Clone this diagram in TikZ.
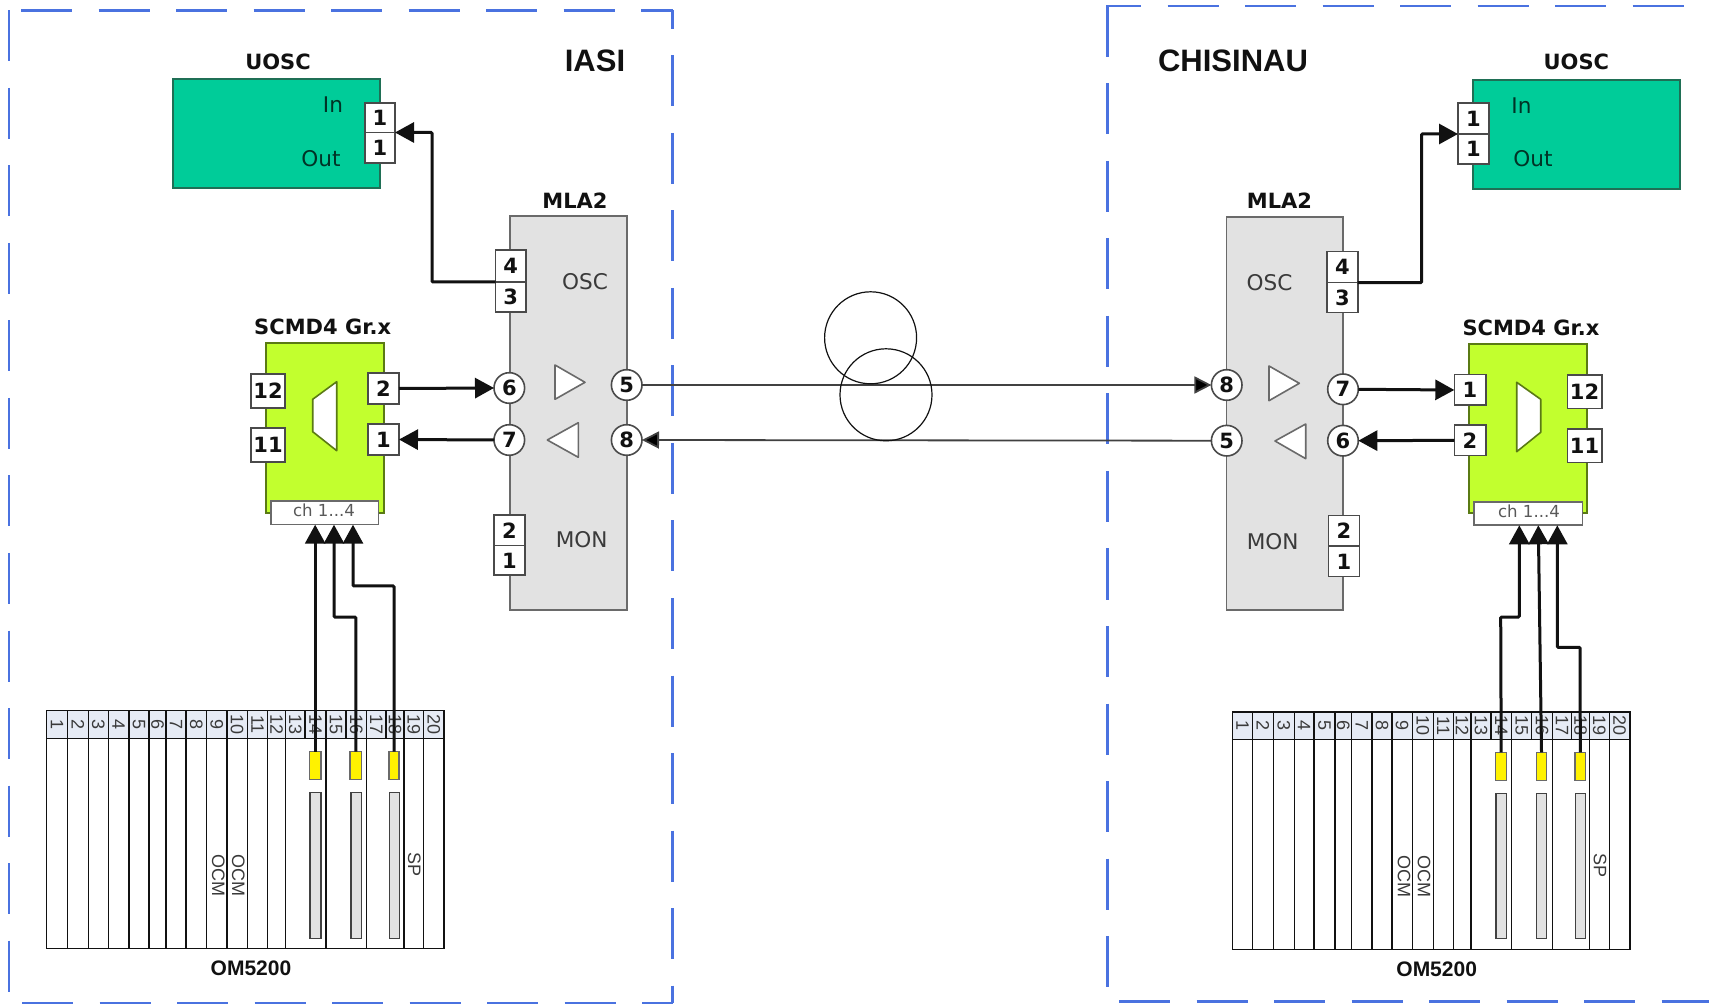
\documentclass[tikz,border=0pt]{standalone}
\usepackage{fontspec}
\usetikzlibrary{arrows.meta}
\newfontfamily\vfont{DejaVu Sans}
\newfontfamily\afont{Liberation Sans}
\definecolor{dashblue}{HTML}{4A72E0}
\definecolor{uoscfill}{HTML}{00CC99}
\definecolor{uoscline}{HTML}{1F6F55}
\definecolor{scmdfill}{HTML}{C2FF2E}
\definecolor{scmdline}{HTML}{5A7A14}
\definecolor{mlafill}{HTML}{E2E2E2}
\definecolor{hdrfill}{HTML}{E6EBF5}
\definecolor{softblack}{HTML}{111111}
\definecolor{midgray}{HTML}{6A6A6A}
\definecolor{txtgray}{HTML}{3A3A3A}
\def\fac{0.5}
\newcommand{\bx}[7]{%
  \pgfmathsetmacro\bcx{(#2+#4)/2}\pgfmathsetmacro\bcy{(#3+#5)/2}%
  \pgfmathsetmacro\bbw{abs(#4-#2)*\fac}\pgfmathsetmacro\bbh{abs(#5-#3)*\fac}%
  \node[#6,minimum width=\bbw pt,minimum height=\bbh pt] (#1) at (\bcx,\bcy) {#7};}
% rack: prefix, slot list, top, header bottom, bottom
\newcommand{\rackslots}[5]{%
  \foreach \a/\b [count=\n] in {#2}{%
    \pgfmathsetmacro\yend{(\n==14||\n==16||\n==18)?#4:#5}%
    \pgfmathsetmacro\mx{(\a+\b)/2}%
    \draw[rackline] (\a,#3) -- (\a,\yend);
    \node[rotate=-90,rtext,text=txtgray] (#1num\n) at (\mx,{(#3+#4)/2}) {\n};
  }}
\tikzset{
  frame/.style={draw=dashblue,line width=1.4pt,dash pattern=on 25.5pt off 13.25pt},
  plainbox/.style={inner sep=0pt,outer sep=0pt,rectangle},
  uosc/.style={plainbox,draw=uoscline,fill=uoscfill,line width=0.9pt},
  scmd/.style={plainbox,draw=scmdline,fill=scmdfill,line width=0.9pt},
  mla/.style={plainbox,draw=midgray,fill=mlafill,line width=0.9pt},
  port/.style={plainbox,draw=midgray!70!black,fill=white,line width=0.8pt,font=\vfont\bfseries\fontsize{10.5}{12}\selectfont,text=softblack},
  cport/.style={circle,inner sep=0pt,outer sep=0pt,minimum size=15.3pt,draw=midgray!70!black,fill=white,line width=0.8pt,font=\vfont\bfseries\fontsize{10.5}{12}\selectfont,text=softblack},
  chbox/.style={plainbox,draw=midgray,fill=white,line width=0.8pt},
  chtext/.style={font=\vfont\fontsize{8.3}{10}\selectfont,text=black!65,inner sep=0pt},
  title/.style={font=\vfont\bfseries\fontsize{10.5}{12}\selectfont,text=softblack,inner sep=0pt},
  site/.style={font=\afont\bfseries\fontsize{15.5}{18}\selectfont,text=softblack,inner sep=0pt},
  lbl/.style={font=\vfont\fontsize{10.8}{12}\selectfont,text=txtgray,inner sep=0pt},
  glbl/.style={font=\vfont\fontsize{10.8}{12}\selectfont,text=black!75!uoscfill,inner sep=0pt},
  rtext/.style={font=\afont\fontsize{9}{10}\selectfont,inner sep=0pt},
  rtitle/.style={font=\afont\bfseries\fontsize{10.5}{12}\selectfont,text=softblack,inner sep=0pt},
  rackbox/.style={plainbox,draw=softblack,fill=white,line width=0.75pt},
  hdrbox/.style={plainbox,draw=softblack,fill=hdrfill,line width=0.75pt},
  rackline/.style={draw=softblack,line width=0.75pt},
  ybar/.style={plainbox,draw=midgray,fill=yellow,line width=0.7pt},
  gbar/.style={plainbox,draw=softblack!80,fill=mlafill,line width=0.7pt},
  wire/.style={draw=softblack,line width=1.5pt,-{Triangle[length=9.5pt,width=10pt]},rounded corners=0.5pt},
  fibre/.style={draw=softblack!80,line width=0.9pt,-{Triangle[length=8.5pt,width=8.5pt,fill=black]}},
  loop/.style={draw=softblack,line width=0.6pt},
  tri/.style={draw=midgray,fill=white,line width=0.8pt,line join=round},
  trap/.style={draw=scmdline,fill=white,line width=0.8pt,line join=round}
}
\begin{document}
\begin{tikzpicture}[x=0.5pt,y=-0.5pt]
\useasboundingbox (0,0) rectangle (1709,1005);
\fill[white] (0,0) rectangle (1709,1005);
% ---------- dashed site frames
\draw[frame] (9,10.5) -- (9,1003);
\draw[frame] (21,10.5) -- (672.7,10.5);
\draw[frame,dash phase=16.25pt] (672.7,10.5) -- (672.7,1003);
\draw[frame] (22,1003) -- (672.7,1003);
\draw[frame] (1107.4,6) -- (1107.4,987);
\draw[frame,dash phase=8pt] (1106,6) -- (1709,6);
\draw[frame] (1119,1001.7) -- (1709,1001.7);
\node[site] (Lsite) at (595,61) {IASI};
\node[site] (Rsite) at (1233,61) {CHISINAU};
% ---------- left UOSC
\node[title] (Lutitle) at (278,62) {UOSC};
\bx{Lu}{173}{79}{380}{188}{uosc}{}
\node[glbl] (Lin) at (333,105) {In};
\node[glbl] (Lout) at (321,159) {Out};
\bx{Lua}{365}{103}{395}{132.5}{port}{1}
\bx{Lub}{365}{132.5}{395}{163}{port}{1}
% ---------- right UOSC
\node[title] (Rutitle) at (1576.4,62) {UOSC};
\bx{Ru}{1473}{80}{1680}{189}{uosc}{}
\node[glbl] (Rin) at (1521.5,106) {In};
\node[glbl] (Rout) at (1533,159) {Out};
\bx{Rua}{1458}{103.3}{1488.7}{134}{port}{1}
\bx{Rub}{1458}{134}{1488.7}{164.3}{port}{1}
% ---------- left MLA2
\node[title] (Lmtitle) at (575,201) {MLA2};
\bx{Lm}{510}{216}{626.7}{610}{mla}{}
\node[lbl] (Losc) at (585,282) {OSC};
\node[lbl] (Lmon) at (581.7,540) {MON};
\bx{Lp4}{495.5}{250}{526}{282}{port}{4}
\bx{Lp3}{495.5}{282}{526}{312}{port}{3}
\bx{Lp2}{494}{515}{524.7}{545.7}{port}{2}
\bx{Lp1}{494}{545.7}{524.7}{575.3}{port}{1}
\node[cport] (Lc6) at (509.3,388) {6};
\node[cport] (Lc7) at (509.3,440) {7};
\node[cport] (Lc5) at (626.7,385) {5};
\node[cport] (Lc8) at (626.7,440) {8};
\draw[tri] (555,365) -- (585,382.3) -- (555,399.3) -- cycle;
\draw[tri] (578.3,422.7) -- (547.3,440) -- (578.3,457.3) -- cycle;
% ---------- right MLA2
\node[title] (Rmtitle) at (1279.5,201) {MLA2};
\bx{Rm}{1226.5}{216.7}{1343}{610}{mla}{}
\node[lbl] (Rosc) at (1269.6,282.7) {OSC};
\node[lbl] (Rmon) at (1272.7,541.7) {MON};
\bx{Rp4}{1327}{251.7}{1357.7}{282.7}{port}{4}
\bx{Rp3}{1327}{282.7}{1357.7}{312.7}{port}{3}
\bx{Rp2}{1328.3}{515.7}{1359.3}{546}{port}{2}
\bx{Rp1}{1328.3}{546}{1359.3}{576.7}{port}{1}
\node[cport] (Rc8) at (1226.7,385) {8};
\node[cport] (Rc5) at (1226.7,440.7) {5};
\node[cport] (Rc7) at (1343,389.3) {7};
\node[cport] (Rc6) at (1343,440.7) {6};
\draw[tri] (1269,366) -- (1299.3,383.3) -- (1269,400.7) -- cycle;
\draw[tri] (1305.7,424) -- (1275,441) -- (1305.7,458.7) -- cycle;
% ---------- left SCMD
\node[title] (Lstitle) at (322.7,327) {SCMD4 Gr.x};
\bx{Ls}{266}{342.7}{383.7}{513}{scmd}{}
\bx{Ls12}{251}{374}{285}{408}{port}{12}
\bx{Ls11}{251}{428}{285}{462}{port}{11}
\bx{Ls2}{367.7}{373}{399}{404}{port}{2}
\bx{Ls1}{367.7}{424}{399}{455}{port}{1}
\draw[trap] (336.7,381.7) -- (336.7,450.7) -- (312.7,431.7) -- (312.7,399.3) -- cycle;
\bx{Lch}{270.7}{501}{378.3}{524.7}{chbox}{}
\node[chtext] (Lchl) at (324,510.5) {ch 1...4};
% ---------- right SCMD
\node[title] (Rstitle) at (1531,328) {SCMD4 Gr.x};
\bx{Rs}{1469.3}{343.7}{1586.7}{513.3}{scmd}{}
\bx{Rs12}{1567.3}{375.3}{1601.7}{408.7}{port}{12}
\bx{Rs11}{1567.3}{429.3}{1601.7}{462.7}{port}{11}
\bx{Rs1}{1454.3}{374.7}{1485.7}{405.3}{port}{1}
\bx{Rs2}{1454.3}{425}{1485.7}{455.7}{port}{2}
\draw[trap] (1516.7,382.3) -- (1540.7,399.3) -- (1540.7,432.3) -- (1516.7,451.7) -- cycle;
\bx{Rch}{1474}{502}{1582.3}{525.3}{chbox}{}
\node[chtext] (Rchl) at (1529,511) {ch 1...4};
% ---------- left rack
\begin{scope}[shift={(0,680)},x=0.16667pt,y=-0.16667pt]
\def\fac{0.16667}
\bx{Lrack}{140}{92}{1332}{805}{rackbox}{}
\bx{Lhdr}{140}{92}{1332}{175}{hdrbox}{}
\rackslots{L}{140/203,203/265,265/325,325/387,387/447,447/498,498/558,558/620,620/681,681/742,742/803,803/857,857/915,915/978,978/1038,1038/1100,1100/1158,1158/1212,1212/1271,1271/1332}{92}{175}{805}
\bx{Ly1}{928}{215}{963}{298}{ybar}{}
\bx{Ly2}{1050}{215}{1085}{298}{ybar}{}
\bx{Ly3}{1167}{215}{1197}{298}{ybar}{}
\bx{Lg1}{930}{338}{963}{775}{gbar}{}
\bx{Lg2}{1053}{338}{1085}{775}{gbar}{}
\bx{Lg3}{1168}{338}{1198}{775}{gbar}{}
\node[rtext,rotate=-90,text=txtgray] (Locma) at (655,585) {OCM};
\node[rtext,rotate=-90,text=txtgray] (Locmb) at (715,585) {OCM};
\node[rtext,rotate=-90,text=txtgray] (Lsp) at (1243,553) {SP};
\node[rtitle] (Lrt) at (753,865) {OM5200};
\end{scope}
% ---------- right rack
\begin{scope}[shift={(1200,680)},x=0.16667pt,y=-0.16667pt]
\def\fac{0.16667}
\bx{Rrack}{98}{96}{1290}{808}{rackbox}{}
\bx{Rhdr}{98}{96}{1290}{178}{hdrbox}{}
\rackslots{R}{98/158,158/220,220/283,283/342,342/405,405/455,455/516,516/576,576/637,637/700,700/760,760/813,813/873,873/935,935/995,995/1057,1057/1115,1115/1168,1168/1228,1228/1290}{96}{178}{808}
\bx{Ry1}{887}{217}{920}{301}{ybar}{}
\bx{Ry2}{1009}{217}{1040}{301}{ybar}{}
\bx{Ry3}{1125}{217}{1157}{301}{ybar}{}
\bx{Rg1}{888}{341}{920}{775}{gbar}{}
\bx{Rg2}{1009}{341}{1040}{775}{gbar}{}
\bx{Rg3}{1126}{341}{1157}{775}{gbar}{}
\node[rtext,rotate=-90,text=txtgray] (Rocma) at (612,590) {OCM};
\node[rtext,rotate=-90,text=txtgray] (Rocmb) at (672,590) {OCM};
\node[rtext,rotate=-90,text=txtgray] (Rsp) at (1200,556) {SP};
\node[rtitle] (Rrt) at (710,867) {OM5200};
\end{scope}
% ---------- connector ends on the ch boxes
\coordinate (Lt1) at (Ly1.north |- Lch.south);
\coordinate (Lt2) at (334,524.7);
\coordinate (Lt3) at (353,524.7);
\coordinate (Rt1) at (1519.3,525.3);
\coordinate (Rt2) at (1538.3,525.3);
\coordinate (Rt3) at (1557.3,525.3);
% ---------- connectors
\draw[wire] (Lp4.south west) -- (432,282) |- (Lua.south east);
\draw[wire] (Rp4.south east) -- (1421.6,282.7) |- (Rua.south west);
\draw[wire] (Ls2.east) -- (Lc6.west);
\draw[wire] (Lc7.west) -- (Ls1.east);
\draw[wire] (Rc7.east) -- (Rs1.west);
\draw[wire] (Rs2.west) -- (Rc6.east);
\draw[fibre] (Lc5.east) -- (Rc8.west);
\draw[fibre] (Rc5.west) -- (Lc8.east);
\draw[wire] (Ly1.north) -- (Lt1);
\draw[wire] (Ly2.north) -- (355.8,617) -- (334,617) -- (Lt2);
\draw[wire] (Ly3.north) -- (394,586) -- (353,586) -- (Lt3);
\draw[wire] (Ry1.north) -- (1500.7,617) -- (1519.3,617) -- (Rt1);
\draw[wire] (Ry2.north) -- (Rt2);
\draw[wire] (Ry3.north) -- (1580,647.3) -- (1557.3,647.3) -- (Rt3);
% ---------- fibre loops
\draw[loop] (870.6,337.8) circle [radius=46];
\draw[loop] (886,394.8) circle [radius=46];
\end{tikzpicture}
\end{document}
